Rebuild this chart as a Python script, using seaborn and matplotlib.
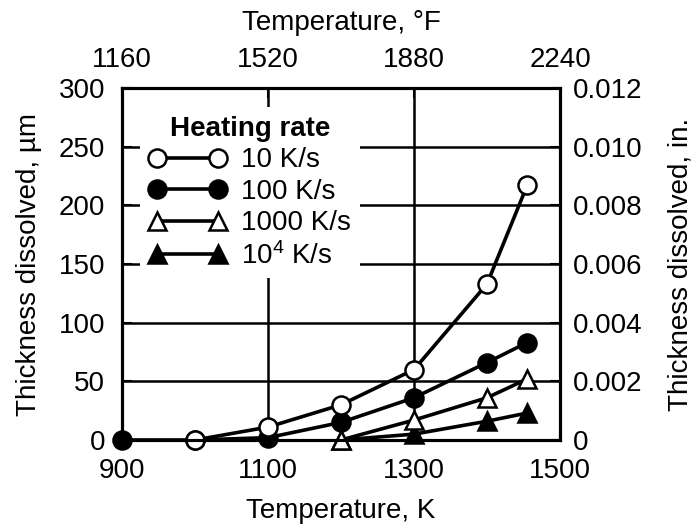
import numpy as np
import pandas as pd
import seaborn as sns
import matplotlib.pyplot as plt

# Data (temperature in K, thickness dissolved in um)
temp_10 = [1000, 1100, 1200, 1300, 1400, 1455]
thick_10 = [0, 11, 30, 60, 133, 217]

temp_100 = [900, 1000, 1100, 1200, 1300, 1400, 1455]
thick_100 = [0, 0, 2, 15, 36, 66, 83]

temp_1000 = [1200, 1300, 1400, 1455]
thick_1000 = [0, 17, 36, 52]

temp_1e4 = [1200, 1300, 1400, 1455]
thick_1e4 = [0, 5, 16, 23]

labels = ["10 K/s", "100 K/s", "1000 K/s", "10$^4$ K/s"]
k_ticks = [900, 1100, 1300, 1500]
f_labels = ["1160", "1520", "1880", "2240"]
um_ticks = [0, 50, 100, 150, 200, 250, 300]
in_ticks = [0, 0.002, 0.004, 0.006, 0.008, 0.010, 0.012]
in_labels = ["0", "0.002", "0.004", "0.006", "0.008", "0.010", "0.012"]

df = pd.concat([
    pd.DataFrame({"T": temp_10, "d": thick_10, "rate": labels[0]}),
    pd.DataFrame({"T": temp_100, "d": thick_100, "rate": labels[1]}),
    pd.DataFrame({"T": temp_1000, "d": thick_1000, "rate": labels[2]}),
    pd.DataFrame({"T": temp_1e4, "d": thick_1e4, "rate": labels[3]}),
], ignore_index=True)

sns.set_style("ticks")
plt.rcParams["font.family"] = ["Liberation Sans", "DejaVu Sans"]
plt.rcParams["mathtext.fontset"] = "custom"
plt.rcParams["mathtext.rm"] = "Liberation Sans"
plt.rcParams["mathtext.it"] = "Liberation Sans"
plt.rcParams["axes.linewidth"] = 2.2
for key in ["text.color", "axes.labelcolor", "xtick.color", "ytick.color", "axes.edgecolor"]:
    plt.rcParams[key] = "black"

FS = 20
fig = plt.figure(figsize=(6.96, 5.26), dpi=100)
# plot box: x 122..560 px, y 88..440 px
ax = fig.add_axes([122 / 696, 1 - 440 / 526, 438 / 696, 352 / 526])

styles = {
    labels[0]: dict(marker="o", mfc="white"),
    labels[1]: dict(marker="o", mfc="black"),
    labels[2]: dict(marker="^", mfc="white"),
    labels[3]: dict(marker="^", mfc="black"),
}
# draw slowest rate last so its open markers sit on top
for lab in [labels[3], labels[2], labels[1], labels[0]]:
    sub = df[df["rate"] == lab]
    sns.lineplot(data=sub, x="T", y="d", ax=ax, color="black", lw=2.6,
                 mec="black", mew=1.8, ms=13, clip_on=False, label=lab,
                 zorder=5, **styles[lab])
handles, labs = ax.get_legend_handles_labels()
if ax.get_legend() is not None:
    ax.get_legend().remove()

ax.set_xlim(900, 1500)
ax.set_ylim(0, 300)
ax.set_xticks(k_ticks)
ax.set_yticks(um_ticks)
ax.tick_params(axis="x", direction="in", length=7, width=1.5, labelsize=FS, pad=13)
ax.tick_params(axis="y", direction="in", length=7, width=1.5, labelsize=FS, pad=12)
ax.set_xlabel("Temperature, K", fontsize=FS, labelpad=10)
ax.set_ylabel("Thickness dissolved, µm", fontsize=FS, labelpad=12)
ax.grid(True, color="black", lw=1.8)
ax.set_axisbelow(True)

# top axis in Fahrenheit (same positions as the kelvin ticks)
top = ax.twiny()
top.set_xlim(ax.get_xlim())
top.set_xticks(k_ticks)
top.set_xticklabels(f_labels)
top.tick_params(direction="in", length=7, width=1.5, labelsize=FS, pad=11)
top.set_xlabel("Temperature, °F", fontsize=FS, labelpad=12)

# right axis in inches
right = ax.twinx()
right.set_ylim(0, 0.012)
right.set_yticks(in_ticks)
right.set_yticklabels(in_labels)
right.tick_params(direction="in", length=7, width=1.5, labelsize=FS, pad=9)
right.set_ylabel("Thickness dissolved, in.", fontsize=FS, labelpad=18)

order = [labs.index(l) for l in labels]
leg = right.legend([handles[i] for i in order], [labs[i] for i in order],
                   title="Heating rate", loc="upper left", bbox_to_anchor=(0.041, 0.945),
                   frameon=True, facecolor="white", edgecolor="none", framealpha=1,
                   fancybox=False, fontsize=FS, title_fontsize=FS, numpoints=2,
                   handlelength=2.8, handletextpad=0.55, labelspacing=0.2,
                   borderpad=0.3, borderaxespad=0)
leg.get_title().set_fontweight("bold")

fig.savefig("out.png", dpi=100)
